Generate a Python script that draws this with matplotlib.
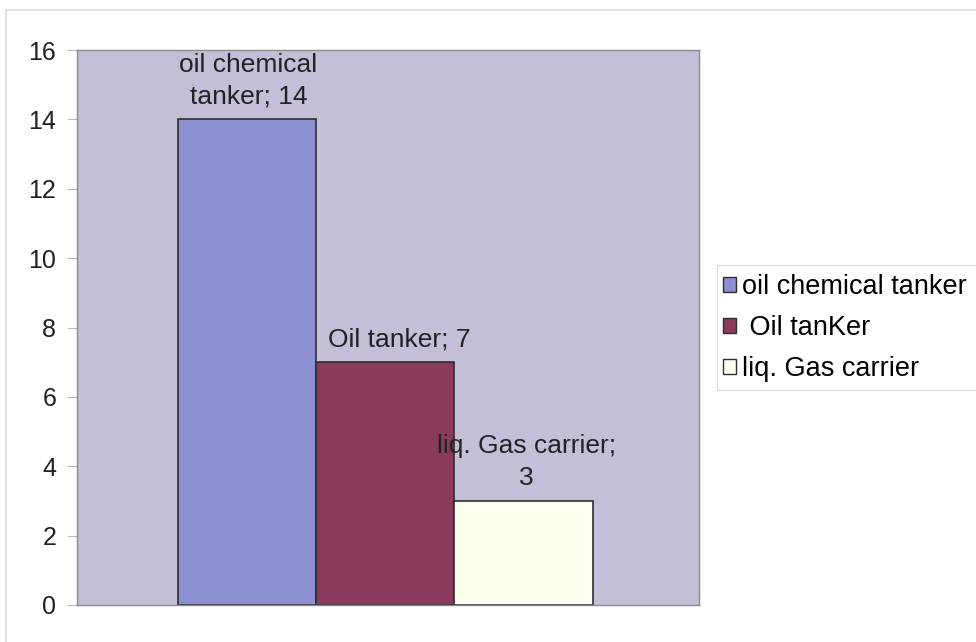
import matplotlib
matplotlib.use("Agg")
import matplotlib.pyplot as plt
from matplotlib.patches import Rectangle

categories = ["oil chemical tanker", " Oil tanKer", "liq. Gas carrier"]
values = [14, 7, 3]
data_labels = ["oil chemical\ntanker; 14", "Oil tanker; 7", "liq. Gas carrier;\n3"]
colors = ["#8C8FD0", "#8C3A5C", "#FFFFF0"]
yticks = [0, 2, 4, 6, 8, 10, 12, 14, 16]
label_dx = [1, 10, 2]  # horizontal nudge of data labels (points)

plt.rcParams['font.family'] = ['Liberation Sans', 'DejaVu Sans']

fig = plt.figure(figsize=(9.76, 6.42), dpi=100)
fig.patch.set_facecolor("white")
# faint outer border
fig.add_artist(Rectangle((6/976, -0.1), 1.2, 1.1 - 10/642, transform=fig.transFigure,
                         fill=False, edgecolor="#DDDDDD", linewidth=1.2))

ax = fig.add_axes([77/976, 1-605/642, 622/976, 555/642])
ax.set_facecolor("#C4BED8")
x = list(range(len(values)))
bars = ax.bar(x, values, width=1.0, color=colors, edgecolor="#2E2E2E", linewidth=1.2)
ax.set_xlim(-1.23, 3.27)
ax.set_ylim(0, 16)
ax.set_yticks(yticks)
ax.set_yticklabels([str(t) for t in yticks], fontsize=18, color="#222222")
ax.set_xticks([])
ax.tick_params(axis='y', length=7, color="#BBBBBB", pad=8)
for s in ax.spines.values():
    s.set_color("#8A8A8A")
    s.set_linewidth(1.0)

for xi, v, lab, dx in zip(x, values, data_labels, label_dx):
    ax.annotate(lab, (xi, v), xytext=(dx, 8), textcoords="offset points",
                ha="center", va="bottom", fontsize=19, color="#222222",
                linespacing=1.4)

# legend frame
fig.add_artist(Rectangle((717/976, 1-390/642), 0.3, 125/642, transform=fig.transFigure,
                         facecolor="white", edgecolor="#DDDDDD", linewidth=1.0))
handles = [Rectangle((0, 0), 1, 1, facecolor=c, edgecolor="#2E2E2E", linewidth=1.0) for c in colors]
leg = fig.legend(handles, categories, loc="center left",
                 bbox_to_anchor=(720/976, 1-328/642), fontsize=19.5,
                 frameon=False, handlelength=0.5, handleheight=0.5,
                 handletextpad=0.2, labelspacing=0.55, borderpad=0.1,
                 borderaxespad=0)

fig.savefig("out.png", dpi=100, facecolor="white")
